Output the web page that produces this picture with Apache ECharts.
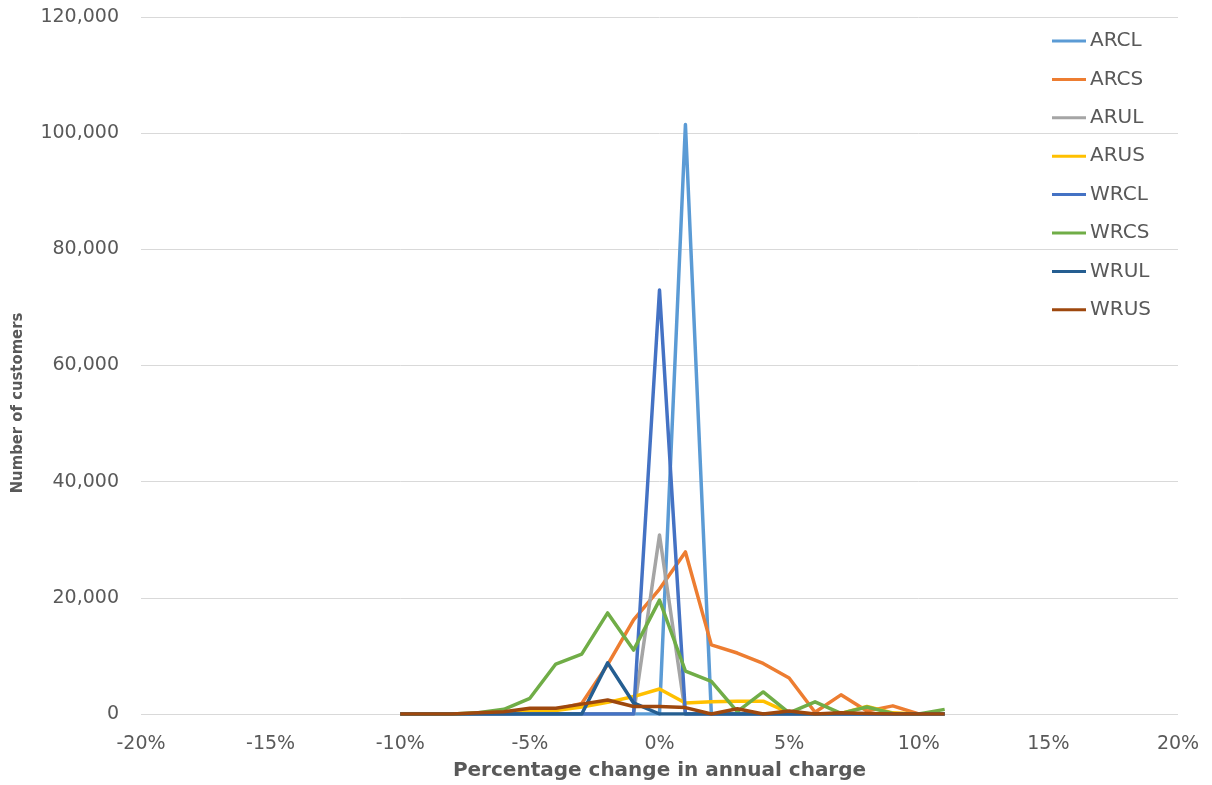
<!DOCTYPE html>
<html>
<head>
<meta charset="utf-8">
<script src="https://cdn.jsdelivr.net/npm/echarts@6/dist/echarts.min.js"></script>
<style>html,body{margin:0;padding:0;background:#fff}#c{width:1212px;height:785px}</style>
</head>
<body>
<div id="c"></div>
<script>
// Percentage change categories (x values, %)
const pct = [-10,-9,-8,-7,-6,-5,-4,-3,-2,-1,0,1,2,3,4,5,6,7,8,9,10,11];
const seriesNames = ['ARCL','ARCS','ARUL','ARUS','WRCL','WRCS','WRUL','WRUS'];
const ARCL = [0,0,0,0,0,0,0,0,0,0,0,101500,0,0,0,0,0,0,0,0,0,0];
const ARCS = [0,0,0,100,300,500,800,1800,8500,16200,21500,27900,11900,10500,8700,6200,300,3300,500,1400,0,0];
const ARUL = [0,0,0,0,0,0,0,0,0,0,30800,0,0,0,0,0,0,0,0,0,0,0];
const ARUS = [0,0,0,100,200,500,600,1200,2000,3000,4300,1900,2100,2200,2200,200,0,100,1300,200,0,0];
const WRCL = [0,0,0,0,0,0,0,0,0,0,73000,0,0,0,0,0,0,0,0,0,0,0];
const WRCS = [0,0,0,200,800,2700,8600,10300,17400,11000,19600,7400,5600,400,3800,200,2100,100,1200,100,0,800];
const WRUL = [0,0,0,0,0,0,0,0,8800,1900,0,0,0,0,0,0,0,0,0,0,0,0];
const WRUS = [0,0,0,200,400,1000,1000,1700,2400,1300,1300,1100,0,900,0,500,0,200,100,0,0,0];
const colors = ['#5B9BD5','#ED7D31','#A5A5A5','#FFC000','#4472C4','#70AD47','#255E91','#9E480E'];
const values = [ARCL, ARCS, ARUL, ARUS, WRCL, WRCS, WRUL, WRUS];
const xTicks = {min: -20, max: 20, interval: 5};
const yTicks = {min: 0, max: 120000, interval: 20000};

const chart = echarts.init(document.getElementById('c'));
const txt = '#595959';
chart.setOption({
  animation: false,
  color: colors,
  grid: {left: 141, right: 34, top: 17, bottom: 71, containLabel: false, outerBoundsMode: 'none'},
  legend: {
    orient: 'vertical', left: 1047, top: 26,
    icon: 'rect', itemWidth: 34, itemHeight: 3, itemGap: 18.4,
    textStyle: {color: txt, fontFamily: 'DejaVu Sans', fontSize: 20, lineHeight: 20, padding: [0,0,0,-1]},
    data: seriesNames
  },
  xAxis: {
    type: 'value', min: xTicks.min, max: xTicks.max, interval: xTicks.interval,
    name: 'Percentage change in annual charge', nameLocation: 'middle', nameGap: 47,
    nameTextStyle: {color: txt, fontFamily: 'DejaVu Sans', fontWeight: 'bold', fontSize: 20},
    axisLine: {show: false}, axisTick: {show: false}, splitLine: {show: false},
    axisLabel: {color: txt, fontFamily: 'DejaVu Sans', fontSize: 19, margin: 21, formatter: v => v + '%'}
  },
  yAxis: {
    type: 'value', min: yTicks.min, max: yTicks.max, interval: yTicks.interval,
    axisLine: {show: false}, axisTick: {show: false},
    splitLine: {lineStyle: {color: '#D9D9D9', width: 1}},
    axisLabel: {color: txt, fontFamily: 'DejaVu Sans', fontSize: 19, margin: 22,
      formatter: v => v.toLocaleString('en-US')}
  },
  graphic: [{
    type: 'text', x: 18, y: 403, rotation: Math.PI / 2,
    style: {text: 'Number of customers', fill: txt, fontFamily: 'DejaVu Sans Condensed', fontWeight: 'bold', fontSize: 16.5,
      align: 'center', verticalAlign: 'middle'}
  }],
  series: seriesNames.map((n, i) => ({
    name: n, type: 'line', showSymbol: false, symbol: 'none',
    lineStyle: {width: 3.5, color: colors[i], join: 'round'},
    data: pct.map((p, j) => [p, values[i][j]])
  }))
});
</script>
</body>
</html>
